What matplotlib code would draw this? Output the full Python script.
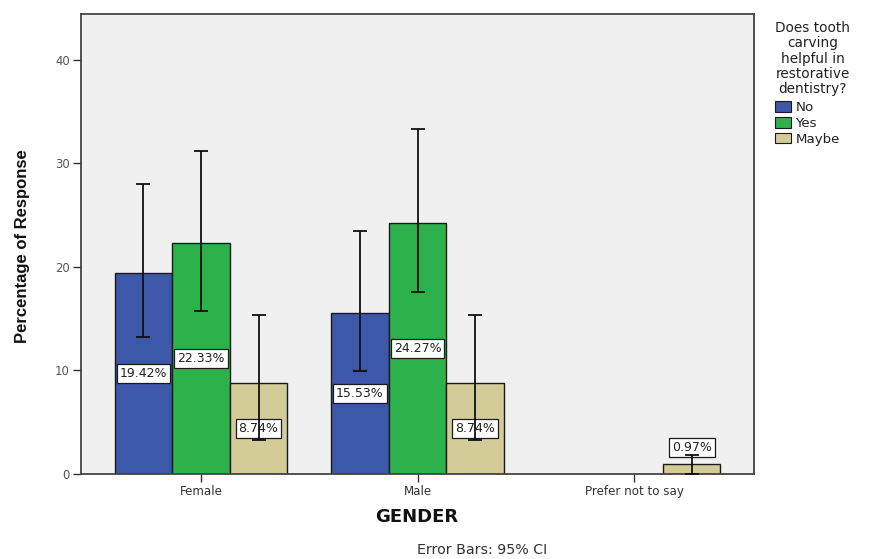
import matplotlib
matplotlib.use("Agg")
import matplotlib.pyplot as plt
import numpy as np
from matplotlib.patches import Patch

# ---- data -------------------------------------------------------------
genders = ["Female", "Male", "Prefer not to say"]
responses = ["No", "Yes", "Maybe"]

pct_no = [19.42, 15.53, 0.0]
pct_yes = [22.33, 24.27, 0.0]
pct_maybe = [8.74, 8.74, 0.97]

# 95% confidence intervals (lower, upper)
ci_no = [(13.2, 28.0), (9.95, 23.5), None]
ci_yes = [(15.75, 31.2), (17.55, 33.3), None]
ci_maybe = [(3.3, 15.35), (3.3, 15.35), (0.0, 1.8)]

y_ticks = [0, 10, 20, 30, 40]

colors = {"No": "#3D57A9", "Yes": "#2DB24B", "Maybe": "#D3CB98"}

# ---- figure -----------------------------------------------------------
fig = plt.figure(figsize=(8.7, 5.59), dpi=100)
ax = fig.add_axes([81 / 870, 1 - 474 / 559, (754 - 81) / 870, (474 - 14) / 559])
ax.set_facecolor("#F0F0F0")

font = "DejaVu Sans"
x = np.arange(len(genders))
width = 0.266
series = [("No", pct_no, ci_no), ("Yes", pct_yes, ci_yes), ("Maybe", pct_maybe, ci_maybe)]

for i, (name, vals, cis) in enumerate(series):
    offs = (i - 1) * width
    for j, v in enumerate(vals):
        if v <= 0:
            continue
        xc = x[j] + offs
        ax.bar(xc, v, width=width, color=colors[name], edgecolor="#1a1a1a",
               linewidth=1.0, zorder=2)
        # value label in a white box
        ly = v / 2 if v >= 3 else v + 1.55
        ax.text(xc, ly, f"{v:.2f}%", ha="center", va="center", fontsize=9.0,
                family=font, color="#222222", zorder=3,
                bbox=dict(boxstyle="square,pad=0.24", facecolor="white",
                          edgecolor="#1a1a1a", linewidth=0.9))
        ci = cis[j]
        if ci is not None:
            lo, hi = ci
            ax.errorbar(xc, v, yerr=[[v - lo], [hi - v]], fmt="none",
                        ecolor="#111111", elinewidth=1.3, capsize=4.8,
                        capthick=1.3, zorder=4)

ax.set_xlim(-0.554, 2.554)
ax.set_ylim(0, 44.4)
ax.set_xticks(x)
ax.set_xticklabels(genders, family=font, fontsize=8.6, color="#333333")
ax.set_yticks(y_ticks)
ax.set_yticklabels([str(t) for t in y_ticks], family=font, fontsize=8.4,
                   color="#555555")
ax.tick_params(axis="both", direction="out", length=6, width=1.0,
               color="#333333", pad=2)

for s in ax.spines.values():
    s.set_color("#444444")
    s.set_linewidth(1.3)

# axis titles
fig.text(23 / 870, 1 - 246 / 559, "Percentage of Response", rotation=90,
         ha="center", va="center", fontsize=12, fontweight="bold",
         family=["Liberation Sans Narrow", "Liberation Sans"], color="#111111")
fig.text(417 / 870, 1 - 517 / 559, "GENDER", ha="center", va="center",
         fontsize=13, fontweight="bold", family=font, color="#111111")
fig.text(482 / 870, 1 - 550 / 559, "Error Bars: 95% CI", ha="center",
         va="center", fontsize=10.3, family=font, color="#333333")

# legend
handles = [Patch(facecolor=colors[r], edgecolor="#1a1a1a", linewidth=0.8)
           for r in responses]
leg = fig.legend(handles, responses,
                 title="Does tooth\ncarving\nhelpful in\nrestorative\ndentistry?",
                 loc="upper center", bbox_to_anchor=(813 / 870, 1 - 16 / 559),
                 frameon=False, prop={"family": font, "size": 9.6},
                 title_fontproperties={"family": font, "size": 9.8},
                 handlelength=1.15, handleheight=0.85, handletextpad=0.35,
                 labelspacing=0.2, borderaxespad=0)
leg.get_title().set_multialignment("center")
leg.get_title().set_linespacing(1.1)
leg.get_title().set_color("#222222")
for t in leg.get_texts():
    t.set_color("#222222")
leg._legend_box.align = "left"
leg._legend_box.sep = 4

fig.savefig("out.png", dpi=100, facecolor="white")
